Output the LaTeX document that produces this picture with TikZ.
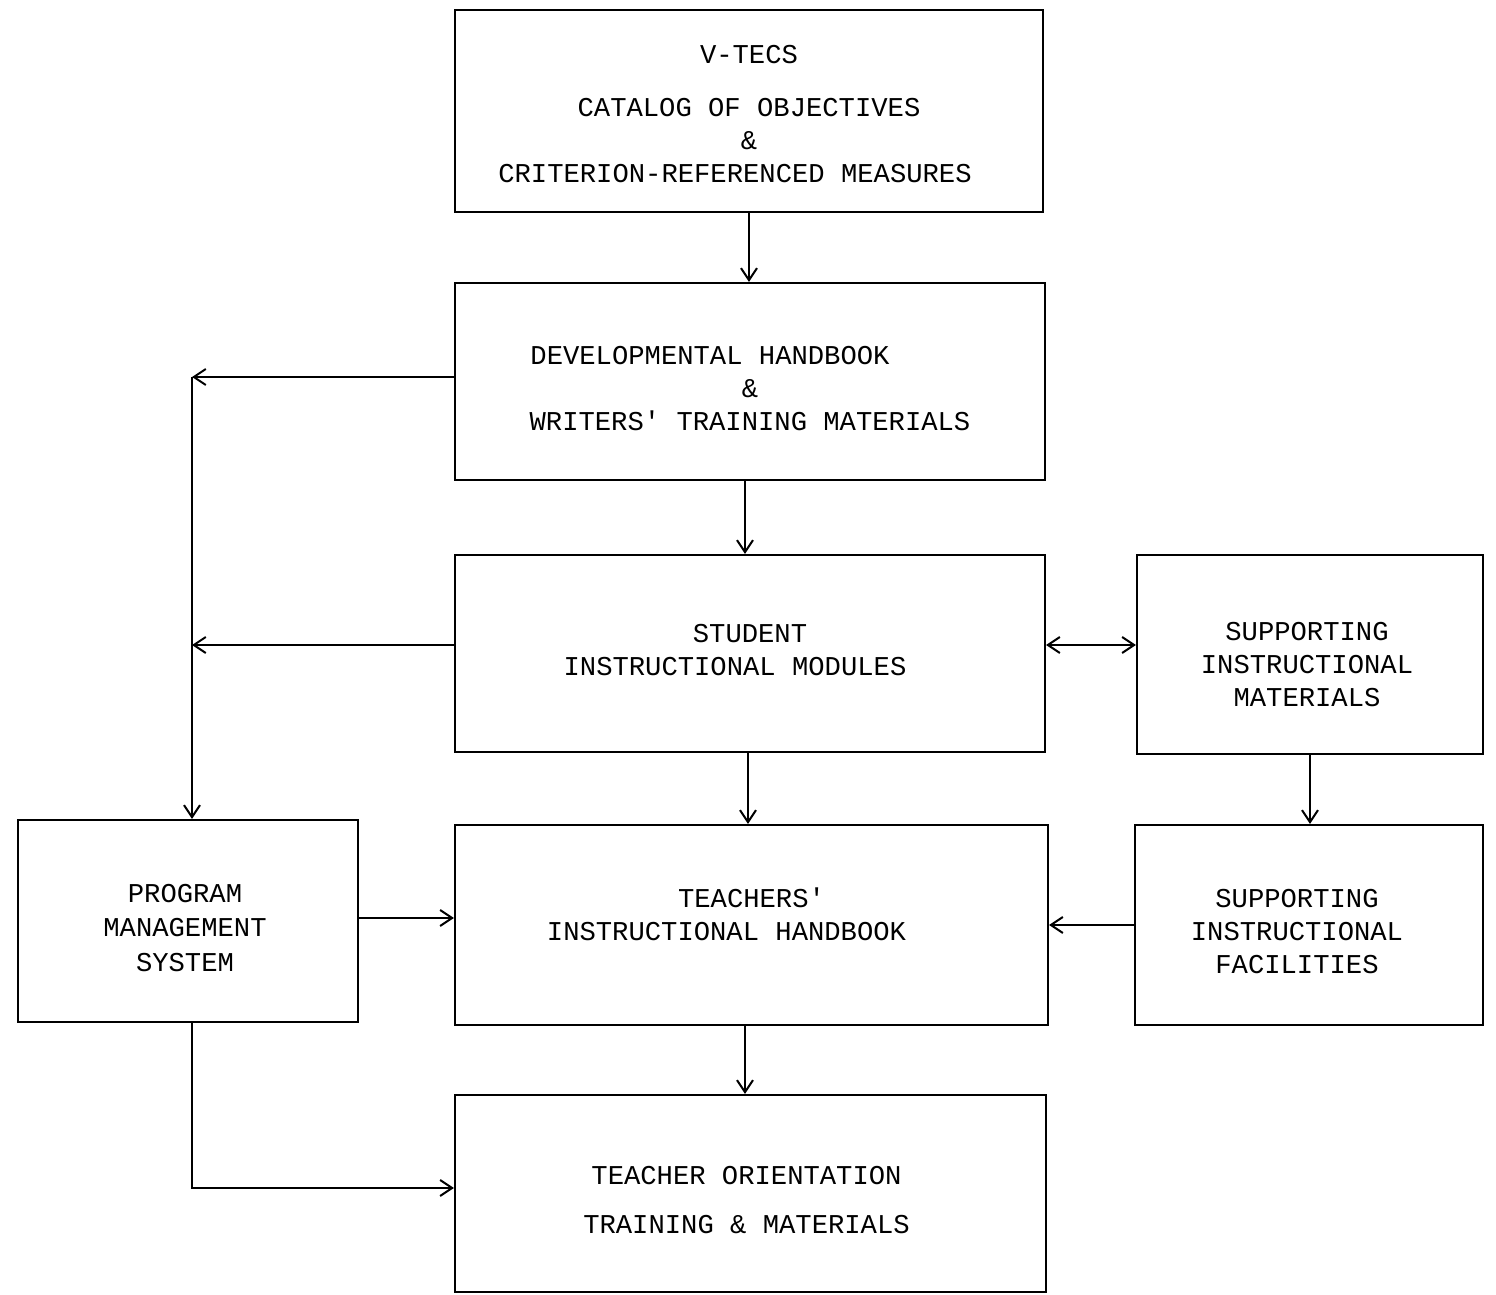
\documentclass[tikz,border=0pt]{standalone}
\usepackage{fontspec}
\setmonofont{Liberation Mono}
\usetikzlibrary{arrows.meta,calc}
\begin{document}
\begin{tikzpicture}[x=0.5pt,y=-0.5pt,
  box/.style={draw,line width=1.1pt,inner sep=0pt},
  txt/.style={inner sep=0pt,align=center,
    font=\ttfamily\fontsize{13.6}{16.5}\selectfont},
  conn/.style={line width=1pt,-{Straight Barb[length=6pt,width=8pt]}},
  dconn/.style={line width=1pt,{Straight Barb[length=6pt,width=8pt]}-{Straight Barb[length=6pt,width=8pt]}}]
\useasboundingbox[fill=white] (0,0) rectangle (1496,1295);

% boxes
\node[box,minimum width=294pt,minimum height=101pt] (vtecs) at (749,111) {};
\node[box,minimum width=295pt,minimum height=98.5pt] (dev) at (750,381.5) {};
\node[box,minimum width=295pt,minimum height=98.5pt] (stu) at (750,653.5) {};
\node[box,minimum width=173pt,minimum height=99.5pt] (sim) at (1310,654.5) {};
\node[box,minimum width=296.5pt,minimum height=100pt] (tea) at (751.5,925) {};
\node[box,minimum width=174pt,minimum height=100pt] (sif) at (1309,925) {};
\node[box,minimum width=170pt,minimum height=101pt] (pms) at (188,921) {};
\node[box,minimum width=295.5pt,minimum height=98.5pt] (ori) at (750.5,1193.5) {};

% texts
\node[txt] (vtecst) at ($(vtecs.center)+(0,3)$)
  {V-TECS\\[10pt]CATALOG OF OBJECTIVES\\\&\\CRITERION-REFERENCED MEASURES\hspace*{14pt}};
\node[txt] (devt) at ($(dev.center)+(0,7)$)
  {DEVELOPMENTAL HANDBOOK\hspace*{40pt}\\\&\\WRITERS' TRAINING MATERIALS};
\node[txt] (stut) at ($(stu.center)+(0,-3)$)
  {STUDENT\\INSTRUCTIONAL MODULES\hspace*{15pt}};
\node[txt] (simt) at ($(sim.center)+(-3,10)$)
  {SUPPORTING\\INSTRUCTIONAL\\MATERIALS};
\node[txt] (teat) at ($(tea.center)+(0,-11)$)
  {TEACHERS'\\INSTRUCTIONAL HANDBOOK\hspace*{25pt}};
\node[txt] (sift) at ($(sif.center)+(-12,7)$)
  {SUPPORTING\\INSTRUCTIONAL\\FACILITIES};
\node[txt,font=\ttfamily\fontsize{13.6}{17.2}\selectfont] (pmst) at ($(pms.center)+(-3,7)$)
  {PROGRAM\\MANAGEMENT\\SYSTEM};
\node[txt] (orit) at ($(ori.center)+(-4,7)$)
  {TEACHER ORIENTATION\\[8pt]TRAINING \& MATERIALS};

% vertical chain
\coordinate (a1) at (vtecs.south);
\draw[conn] (a1) -- (a1 |- dev.north);
\coordinate (a2) at ($(dev.south)+(-5,0)$);
\draw[conn] (a2) -- (a2 |- stu.north);
\coordinate (a3) at ($(stu.south)+(-2,0)$);
\draw[conn] (a3) -- (a3 |- tea.north);
\coordinate (a4) at ($(tea.south)+(-6.5,0)$);
\draw[conn] (a4) -- (a4 |- ori.north);
\draw[conn] (sim.south) -- (sim.south |- sif.north);

% left feedback to program management
\coordinate (dw) at ($(dev.west)+(0,-4.5)$);
\coordinate (corner) at (192,377);
\draw[conn] (dw) -- (corner);
\draw[conn] (corner) -- (pms.north -| corner);
\coordinate (sw) at ($(stu.west)+(0,-8.5)$);
\draw[conn] (sw) -- (sw -| corner);

% student <-> supporting materials
\coordinate (se) at ($(stu.east)+(0,-8.5)$);
\draw[dconn] (se) -- (se -| sim.west);

% facilities -> teachers handbook
\draw[conn] (sif.west) -- (sif.west -| tea.east);

% program management -> teachers handbook
\coordinate (pe) at ($(pms.east)+(0,-3)$);
\draw[conn] (pe) -- (pe -| tea.west);

% program management -> teacher orientation
\coordinate (bl) at (192,1188);
\draw[conn] (pms.south -| corner) -- (bl) -- (bl -| ori.west);
\end{tikzpicture}
\end{document}
